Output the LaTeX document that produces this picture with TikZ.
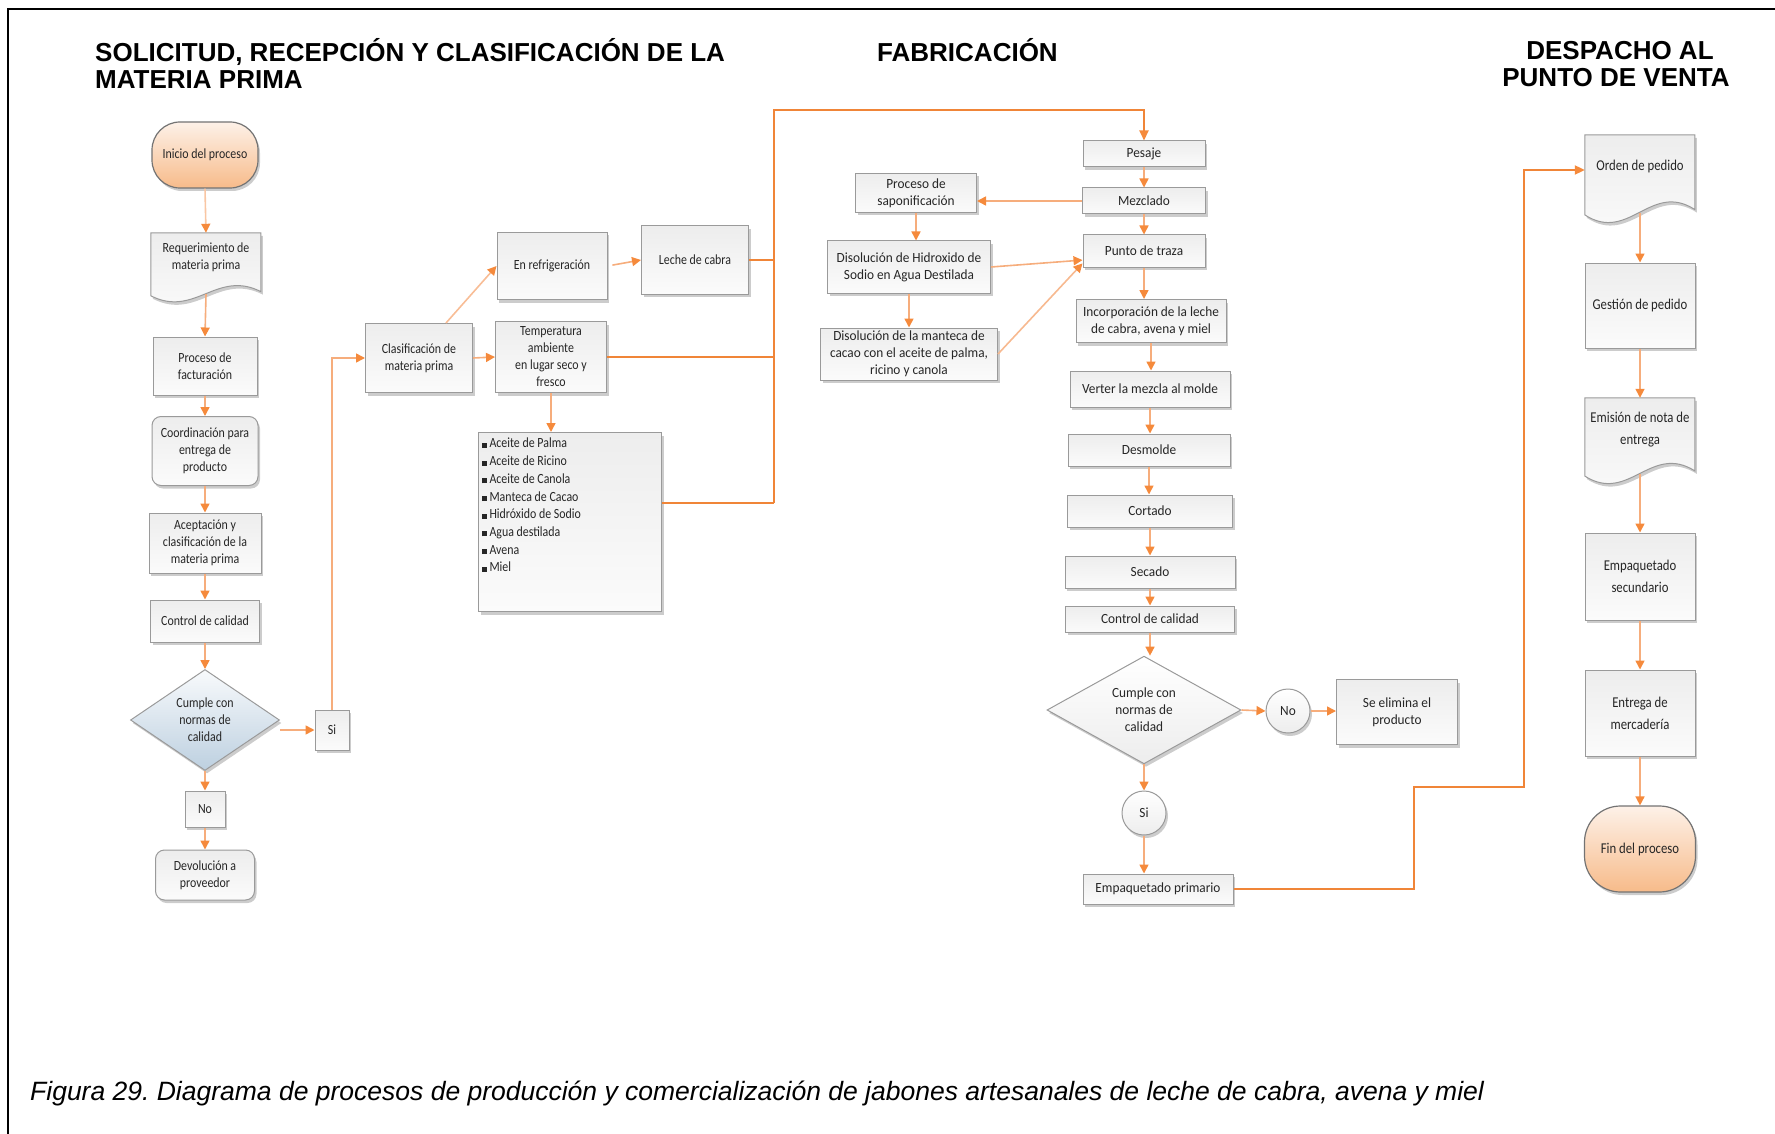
\documentclass[tikz,border=0pt]{standalone}
\usepackage{fontspec}
\setmainfont{Liberation Sans}
\newfontfamily\boxfont[FakeStretch=0.85]{Carlito}
\newfontfamily\fabfont[FakeStretch=0.95]{Carlito}
\usetikzlibrary{arrows.meta,shapes.geometric,shadows,calc}
\frenchspacing

\definecolor{lineor}{HTML}{F6AD7C}
\definecolor{tipor}{HTML}{F58A3C}
\definecolor{busor}{HTML}{F08538}
\definecolor{boxline}{HTML}{9A9A9A}
\definecolor{boxtop}{HTML}{EDEDED}
\definecolor{boxbot}{HTML}{FBFBFB}
\definecolor{termtop}{HTML}{FDF1E8}
\definecolor{termbot}{HTML}{F7BB8A}
\definecolor{dectop}{HTML}{F8FAFC}
\definecolor{decbot}{HTML}{BDD0E0}
\definecolor{txt}{HTML}{262626}

\tikzset{
  shade box/.style={draw=boxline, line width=1pt, top color=boxtop, bottom color=boxbot,
    drop shadow={shadow xshift=2pt, shadow yshift=-3pt, fill=black!50, opacity=0.4}},
  label font/.style={font=\boxfont\fontsize{14}{17}\selectfont, text=txt},
  proc/.style={shade box, rectangle, inner sep=1pt, align=center, label font},
  fab/.style={proc, font=\fabfont\fontsize{14}{17}\selectfont},
  rproc/.style={proc, rounded corners=9pt},
  term/.style={proc, draw=black!55, line width=1.2pt, top color=termtop, bottom color=termbot},
  decision/.style={shade box, diamond, inner sep=0pt, align=center, label font},
  bluedec/.style={decision, top color=dectop, bottom color=decbot},
  ring/.style={shade box, circle, top color=white, bottom color=boxtop, inner sep=0pt,
    minimum size=44pt, label font, font=\fabfont\fontsize{14}{17}\selectfont},
  docnode/.style={rectangle, draw=none, fill=none, inner sep=0pt},
  docfill/.style={shade box},
  doctext/.style={inner sep=0pt, align=center, label font},
  title/.style={inner sep=0pt, anchor=base west, font=\bfseries\fontsize{26}{30}\selectfont, text=black},
  arr/.style={draw=lineor, line width=1.6pt, -{Triangle[length=9pt,width=9pt,color=tipor]}},
  bus/.style={draw=busor, line width=2pt},
  busarr/.style={bus, -{Triangle[length=10pt,width=9pt,color=tipor]}},
}

% document symbol with a wavy lower edge, fitted to a named node
\newcommand\docshape[3]{%
  \begin{scope}[shift={(#1.north west)}, x=#2pt, y=-#3pt]
    \path[docfill] (0,0) -- (1,0) -- (1,0.84)
      .. controls (0.6,0.52) and (0.4,1.22) .. (0,0.90) -- cycle;
  \end{scope}}

\begin{document}
\begin{tikzpicture}[x=1pt, y=-1pt]
\useasboundingbox (0,0) rectangle (1775,1134);

% frame
\draw[line width=2.4pt, line join=miter] (8,1134) -- (8,9) -- (1775,9);

% headings
\node[title] (t1a) at (95,62) {SOLICITUD, RECEPCIÓN Y CLASIFICACIÓN DE LA};
\node[title] (t1b) at (95,89) {MATERIA PRIMA};
\node[title] (t2) at (877,62) {FABRICACIÓN};
\node[title, anchor=base] (t3a) at (1620,60) {DESPACHO AL};
\node[title, anchor=base] (t3b) at (1616,87) {PUNTO DE VENTA};

% ---------- raw material column ----------
\node[term, rounded corners=28pt, minimum width=106pt, minimum height=66pt] (inicio) at (205,155) {Inicio del proceso};

\node[docnode, minimum width=110pt, minimum height=70pt] (req) at (206,268) {};
\docshape{req}{110}{70}
\node[doctext] (req-t) at ($(req.north)!0.35!(req.south)$) {Requerimiento de\\materia prima};

\node[proc, minimum width=104pt, minimum height=58pt] (fact) at (205,366) {Proceso de\\facturación};
\node[rproc, minimum width=106pt, minimum height=69pt] (coord) at (205,451) {Coordinación para\\entrega de\\producto};
\node[proc, minimum width=112pt, minimum height=60pt] (acep) at (205,543) {Aceptación y\\clasificación de la\\materia prima};
\node[proc, minimum width=109pt, minimum height=42pt] (ctrl1) at (205,621) {Control de calidad};
\node[bluedec, minimum width=149pt, minimum height=95pt] (dec1) at (205,720) {Cumple con\\normas de\\calidad};
\node[proc, minimum width=34pt, minimum height=40pt] (si1) at (332,730) {Si};
\node[proc, minimum width=40pt, minimum height=36pt] (no1) at (205,809) {No};
\node[rproc, minimum width=99pt, minimum height=50pt] (dev) at (205,875) {Devolución a\\proveedor};

\draw[arr, draw=lineor!70] (inicio.south) -- (req.north);
\draw[arr] ($(req.north)!0.87!(req.south)$) -- (fact.north);
\draw[arr] (fact.south) -- (coord.north);
\draw[arr] (coord.south) -- (acep.north);
\draw[arr] (acep.south) -- (ctrl1.north);
\draw[arr] (ctrl1.south) -- (dec1.north);
\draw[arr] (dec1.east |- si1.west) -- (si1.west);
\draw[arr] (dec1.south) -- (no1.north);
\draw[arr] (no1.south) -- (dev.north);

% ---------- classification ----------
\node[proc, minimum width=107pt, minimum height=69pt] (clas) at (419,358) {Clasificación de\\materia prima};
\node[proc, minimum width=110pt, minimum height=67pt] (refr) at (552,266) {En refrigeración};
\node[proc, minimum width=107pt, minimum height=68pt] (leche) at (695,260) {Leche de cabra};
\node[proc, minimum width=111pt, minimum height=71pt] (temp) at (551,357) {Temperatura\\ambiente\\en lugar seco y\\fresco};
\node[proc, minimum width=183pt, minimum height=179pt] (lista) at (570,522) {};
\node[doctext, align=left, anchor=north west, font=\boxfont\fontsize{14}{17.7}\selectfont] (lista-t)
  at ($(lista.north west)+(4,6)$)
  {\rule{5pt}{5pt}\,Aceite de Palma\\
   \rule{5pt}{5pt}\,Aceite de Ricino\\
   \rule{5pt}{5pt}\,Aceite de Canola\\
   \rule{5pt}{5pt}\,Manteca de Cacao\\
   \rule{5pt}{5pt}\,Hidróxido de Sodio\\
   \rule{5pt}{5pt}\,Agua destilada\\
   \rule{5pt}{5pt}\,Avena\\
   \rule{5pt}{5pt}\,Miel};

\draw[arr] (si1.north) |- (clas.west);
\draw[arr, draw=lineor!80] ($(clas.north)!0.5!(clas.north east)$) -- (refr.west);
\draw[arr] (clas.east) -- (temp.west);
\draw[arr, shorten <=5pt] (refr.east) -- (leche.west);
\draw[arr] (temp.south) -- (temp.south |- lista.north);

% collector line to the weighing step
\coordinate (busb) at (774,503);
\coordinate (bust) at (774,110);
\draw[bus] (leche.east) -- (leche.east -| bust);
\draw[bus] (temp.east) -- (temp.east -| bust);
\draw[bus] (busb -| lista.east) -- (busb);

% ---------- manufacturing ----------
\node[fab, minimum width=122pt, minimum height=26pt] (pesaje) at (1144,154) {Pesaje};
\node[fab, minimum width=123pt, minimum height=26pt] (mezcla) at (1144,201) {Mezclado};
\node[fab, minimum width=122pt, minimum height=32pt] (traza) at (1144,251) {Punto de traza};
\node[fab, minimum width=121pt, minimum height=39pt] (sapon) at (916,193) {Proceso de\\saponificación};
\node[fab, minimum width=163pt, minimum height=52pt] (hidrox) at (909,267) {Disolución de Hidroxido de\\Sodio en Agua Destilada};
\node[fab, minimum width=177pt, minimum height=52pt] (mant) at (909,354) {Disolución de la manteca de\\cacao con el aceite de palma,\\ricino y canola};
\node[fab, minimum width=150pt, minimum height=43pt] (incorp) at (1151,321) {Incorporación de la leche\\de cabra, avena y miel};
\node[fab, minimum width=160pt, minimum height=36pt] (verter) at (1150,389) {Verter la mezcla al molde};
\node[fab, minimum width=162pt, minimum height=32pt] (desm) at (1149,450) {Desmolde};
\node[fab, minimum width=165pt, minimum height=32pt] (cort) at (1150,511) {Cortado};
\node[fab, minimum width=170pt, minimum height=32pt] (sec) at (1150,572) {Secado};
\node[fab, minimum width=169pt, minimum height=26pt] (ctrl2) at (1150,619) {Control de calidad};
\node[decision, top color=white, bottom color=boxtop, minimum width=194pt, minimum height=105pt,
  font=\fabfont\fontsize{14}{17}\selectfont] (dec2) at (1144,710) {Cumple con\\normas de\\calidad};
\node[ring] (no2) at (1288,711) {No};
\node[fab, minimum width=121pt, minimum height=65pt] (elim) at (1397,712) {Se elimina el\\producto};
\node[ring] (si2) at (1144,813) {Si};
\node[fab, minimum width=150pt, minimum height=30pt] (emp1) at (1158,889) {Empaquetado primario};

\draw[busarr] (busb) -- (bust) -| (pesaje.north);
\draw[arr] (pesaje.south) -- (mezcla.north);
\draw[arr] (mezcla.west) -- (mezcla.west -| sapon.east);
\draw[arr] (mezcla.south) -- (traza.north);
\draw[arr] (sapon.south) -- (sapon.south |- hidrox.north);
\draw[arr] (hidrox.south) -- (hidrox.south |- mant.north);
\draw[arr] (hidrox.east) -- ($(traza.west)!0.55!(traza.south west)$);
\draw[arr, draw=lineor!85] (mant.east) -- ($(traza.west)!0.75!(traza.south west)$);
\draw[arr] (traza.south) -- (traza.south |- incorp.north);
\draw[arr] (incorp.south) -- (incorp.south |- verter.north);
\draw[arr] (verter.south) -- (verter.south |- desm.north);
\draw[arr] (desm.south) -- (desm.south |- cort.north);
\draw[arr] (cort.south) -- (cort.south |- sec.north);
\draw[arr] (sec.south) -- (sec.south |- ctrl2.north);
\draw[arr] (ctrl2.south) -- (ctrl2.south |- dec2.north);
\draw[arr] (dec2.east) -- (no2.west);
\draw[arr] (no2.east) -- (no2.east -| elim.west);
\draw[arr] (dec2.south) -- (si2.north);
\draw[arr] (si2.south) -- (si2.south |- emp1.north);

% ---------- dispatch ----------
\node[docnode, minimum width=110pt, minimum height=89pt] (orden) at (1640,179.5) {};
\docshape{orden}{110}{89}
\node[doctext, font=\boxfont\fontsize{15}{19}\selectfont] (orden-t) at ($(orden.north)!0.36!(orden.south)$) {Orden de pedido};

\node[proc, font=\boxfont\fontsize{15}{22}\selectfont, minimum width=110pt, minimum height=85pt] (gest) at (1640,305.5) {Gestión de pedido};

\node[docnode, minimum width=110pt, minimum height=87pt] (emis) at (1640,441.5) {};
\docshape{emis}{110}{87}
\node[doctext, font=\boxfont\fontsize{15}{22}\selectfont] (emis-t) at ($(emis.north)!0.36!(emis.south)$) {Emisión de nota de\\entrega};

\node[proc, font=\boxfont\fontsize{15}{22}\selectfont, minimum width=110pt, minimum height=87pt] (empsec) at (1640,576.5) {Empaquetado\\secundario};
\node[proc, font=\boxfont\fontsize{15}{22}\selectfont, minimum width=110pt, minimum height=86pt] (entr) at (1640,713) {Entrega de\\mercadería};
\node[term, font=\boxfont\fontsize{15}{19}\selectfont, rounded corners=36pt, minimum width=111pt, minimum height=86pt] (fin) at (1640,849) {Fin del proceso};

\coordinate (j1) at (1414,787);
\coordinate (j2) at (1524,170);
\draw[busarr] (emp1.east) -| (j1) -| (j2) -- (j2 -| orden.west);
\draw[arr] ($(orden.north)!0.87!(orden.south)$) -- (gest.north);
\draw[arr] (gest.south) -- (emis.north);
\draw[arr] ($(emis.north)!0.87!(emis.south)$) -- (empsec.north);
\draw[arr] (empsec.south) -- (entr.north);
\draw[arr] (entr.south) -- (fin.north);

% caption
\node[inner sep=0pt, anchor=base west, font=\itshape\fontsize{26.5}{30}\selectfont] (cap) at (30,1100)
  {Figura 29. Diagrama de procesos de producción y comercialización de jabones artesanales de leche de cabra, avena y miel};
\end{tikzpicture}
\end{document}
